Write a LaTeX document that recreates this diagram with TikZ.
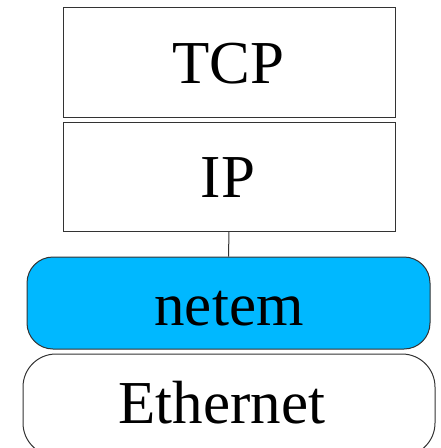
\documentclass[tikz,border=0pt]{standalone}
\usepackage{fontspec}
\setmainfont{Liberation Serif}
\definecolor{netemblue}{HTML}{00B8FF}
\definecolor{edge}{HTML}{333333}
\tikzset{
  layerbox/.style={draw=edge, line width=1pt, inner sep=0pt},
  layertext/.style={anchor=base, inner sep=0pt, font=\fontsize{61}{61}\selectfont},
}
\begin{document}
\begin{tikzpicture}[x=1pt,y=-1pt]
  \clip (0,0) rectangle (440,448);
  \fill[white] (0,0) rectangle (440,448);
  % stacked layers
  \node[layerbox, minimum width=332pt, minimum height=110pt] (tcp) at (229,62) {};
  \node[layerbox, minimum width=332pt, minimum height=109pt] (ip) at (229,176.5) {};
  \node[layerbox, fill=netemblue, rounded corners=26pt, minimum width=403pt, minimum height=92pt] (netem) at (228.5,303) {};
  \node[layerbox, rounded corners=33pt, minimum width=412pt, minimum height=102pt] (eth) at (229,405) {};
  % labels
  \node[layertext] (tcplbl) at (228,83) {TCP};
  \node[layertext] (iplbl) at (228,197) {IP};
  \node[layertext] (netemlbl) at (229,325) {netem};
  \node[layertext] (ethlbl) at (222,423) {Ethernet};
  % hook of netem below IP
  \draw[edge, line width=1pt] (ip.south) -- (netem.north);
\end{tikzpicture}
\end{document}
